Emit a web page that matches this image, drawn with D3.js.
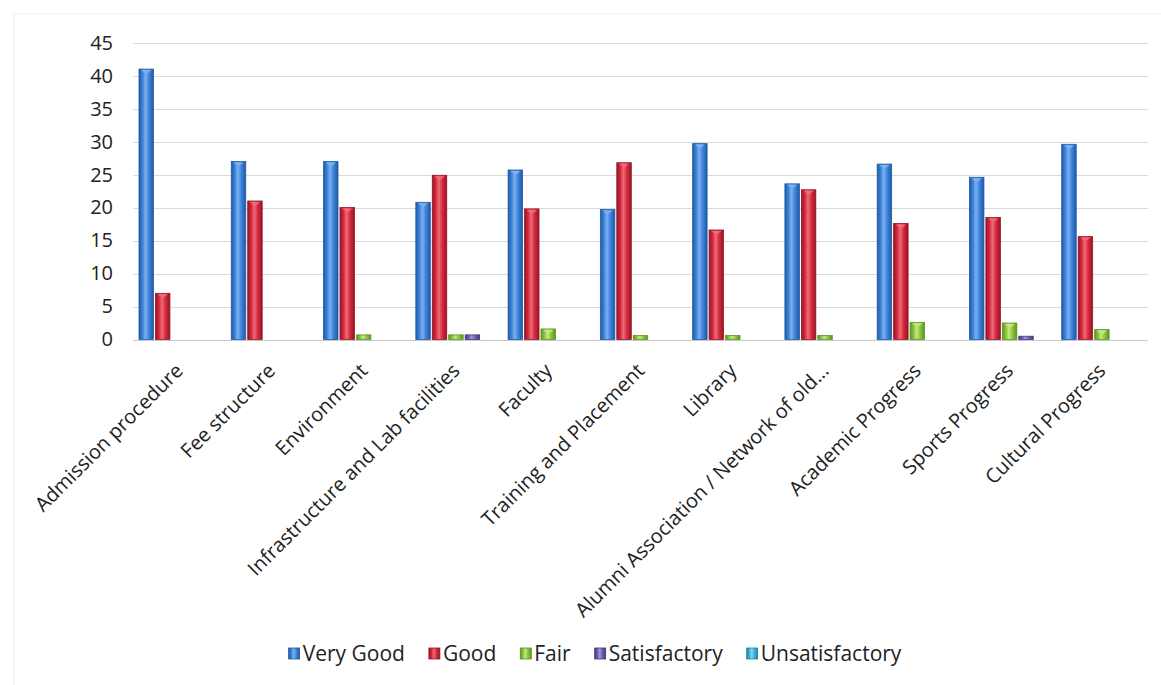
<!DOCTYPE html>
<html>
<head>
<meta charset="utf-8">
<script src="https://cdn.jsdelivr.net/npm/d3@7"></script>
<style>
  html, body { margin: 0; padding: 0; background: #ffffff; }
  svg { display: block; }
  text { font-family: "Open Sans", "DejaVu Sans", sans-serif; fill: #222; }
</style>
</head>
<body>
<svg id="chart" width="1161" height="685"></svg>
<script>
// ---- data ----
const categories = [
  "Admission procedure", "Fee structure", "Environment",
  "Infrastructure and Lab facilities", "Faculty", "Training and Placement",
  "Library", "Alumni Association / Network of old...", "Academic Progress",
  "Sports Progress", "Cultural Progress"
];
const seriesNames = ["Very Good", "Good", "Fair", "Satisfactory", "Unsatisfactory"];
const veryGood       = [41, 27, 27, 20.8, 25.7, 19.7, 29.7, 23.6, 26.6, 24.6, 29.6];
const good           = [7, 21, 20, 24.9, 19.8, 26.8, 16.6, 22.7, 17.6, 18.5, 15.6];
const fair           = [0, 0, 0.7, 0.7, 1.6, 0.6, 0.6, 0.6, 2.6, 2.5, 1.5];
const satisfactory   = [0, 0, 0, 0.7, 0, 0, 0, 0, 0, 0.5, 0];
const unsatisfactory = [0, 0, 0, 0, 0, 0, 0, 0, 0, 0, 0];
const yTicks = [0, 5, 10, 15, 20, 25, 30, 35, 40, 45];

const seriesValues = [veryGood, good, fair, satisfactory, unsatisfactory];
const palette = {
  "Very Good":      { main: "#3f82d8", light: "#79b0f0", dark: "#1d5aa8" },
  "Good":           { main: "#d32a3e", light: "#ef6a78", dark: "#971424" },
  "Fair":           { main: "#8cc43c", light: "#c2e886", dark: "#5a9420" },
  "Satisfactory":   { main: "#6d5fae", light: "#a296d6", dark: "#43367e" },
  "Unsatisfactory": { main: "#3fb2da", light: "#86d6f0", dark: "#1f7fa6" }
};

const svg = d3.select("#chart");
const W = 1161, H = 685;
const plot = { left: 133, right: 1148, top: 42.7, bottom: 339.5 };

svg.append("rect").attr("width", W).attr("height", H).attr("fill", "#fff");

// faint frame of the scanned chart area
svg.append("line").attr("x1", 14).attr("x2", W).attr("y1", 14).attr("y2", 14)
  .attr("stroke", "#ececec").attr("stroke-width", 1);
svg.append("line").attr("x1", 14).attr("x2", 14).attr("y1", 14).attr("y2", H)
  .attr("stroke", "#ececec").attr("stroke-width", 1);

// gradients
const defs = svg.append("defs");
seriesNames.forEach((s, i) => {
  const c = palette[s];
  const g = defs.append("linearGradient").attr("id", "grad" + i)
    .attr("x1", "0%").attr("x2", "100%").attr("y1", "0%").attr("y2", "0%");
  g.append("stop").attr("offset", "0%").attr("stop-color", c.dark);
  g.append("stop").attr("offset", "25%").attr("stop-color", c.main);
  g.append("stop").attr("offset", "45%").attr("stop-color", c.light);
  g.append("stop").attr("offset", "70%").attr("stop-color", c.main);
  g.append("stop").attr("offset", "100%").attr("stop-color", c.dark);
});

// scales
const y = d3.scaleLinear().domain([0, 45]).range([plot.bottom, plot.top]);
const x0 = d3.scaleBand().domain(categories).range([plot.left, plot.right])
  .paddingInner(0.13).paddingOuter(0.065);
const x1 = d3.scaleBand().domain(seriesNames).range([0, x0.bandwidth()])
  .paddingInner(0.12);

// gridlines
svg.append("g").selectAll("line").data(yTicks.filter(t => t > 0)).join("line")
  .attr("x1", plot.left).attr("x2", plot.right)
  .attr("y1", d => Math.round(y(d)) + 0.5).attr("y2", d => Math.round(y(d)) + 0.5)
  .attr("stroke", "#dadada").attr("stroke-width", 1);

// y axis (labels only)
const yAxis = d3.axisLeft(y).tickValues(yTicks).tickSize(0).tickPadding(0);
const gy = svg.append("g").attr("transform", `translate(113,0)`).call(yAxis);
gy.select(".domain").remove();
gy.selectAll("text").style("font-size", "20px").attr("fill", "#222")
  .style("font-family", '"Open Sans", sans-serif');

// bars
const barData = [];
categories.forEach((c, ci) => {
  seriesNames.forEach((s, si) => {
    barData.push({ cat: c, series: s, si: si, value: seriesValues[si][ci] });
  });
});
const bars = barData.filter(d => d.value > 0);
const gBars = svg.append("g");
gBars.selectAll("rect").data(bars).join("rect")
  .attr("x", d => x0(d.cat) + x1(d.series))
  .attr("y", d => y(d.value))
  .attr("width", x1.bandwidth())
  .attr("height", d => y(0) - y(d.value))
  .attr("fill", d => `url(#grad${d.si})`)
  .attr("stroke", d => palette[d.series].dark)
  .attr("stroke-width", 0.8);
// small light cap on the top of each bar
gBars.selectAll("path.cap").data(bars.filter(d => y(0) - y(d.value) > 8)).join("path")
  .attr("class", "cap")
  .attr("d", d => {
    const bx = x0(d.cat) + x1(d.series), bw = x1.bandwidth(), by = y(d.value);
    return `M${bx + 2},${by + 1}L${bx + bw - 2},${by + 1}L${bx + bw / 2},${by + 5}Z`;
  })
  .attr("fill", d => palette[d.series].light);

// x axis baseline
svg.append("line").attr("x1", plot.left).attr("x2", plot.right)
  .attr("y1", Math.round(y(0)) + 0.5).attr("y2", Math.round(y(0)) + 0.5)
  .attr("stroke", "#c8c8c8").attr("stroke-width", 1);

// category labels
const xAxis = d3.axisBottom(x0).tickSize(0).tickPadding(0);
const gx = svg.append("g").attr("transform", `translate(0,0)`).call(xAxis);
gx.select(".domain").remove();
gx.selectAll(".tick").attr("transform", d => `translate(${x0(d) + x0.bandwidth() / 2 + 5},372)`);
gx.selectAll(".tick text")
  .attr("x", 0).attr("y", 0).attr("dy", "0")
  .attr("text-anchor", "end")
  .attr("transform", "rotate(-45)")
  .style("font-size", "20px")
  .style("font-family", '"Open Sans", sans-serif')
  .attr("fill", "#222");

// legend
const legend = svg.append("g");
const items = [];
seriesNames.forEach((s, i) => {
  const g = legend.append("g");
  g.append("rect").attr("x", 0).attr("y", -6).attr("width", 11).attr("height", 11)
    .attr("fill", `url(#grad${i})`).attr("stroke", palette[s].dark).attr("stroke-width", 0.8);
  const t = g.append("text").attr("x", 14).attr("y", 0).attr("dy", "0.35em")
    .style("font-size", "21px").style("font-family", '"Open Sans", sans-serif')
    .attr("fill", "#222").text(s);
  const w = 14 + t.node().getComputedTextLength();
  items.push({ g, w });
});
const gap = 24;
const total = d3.sum(items, d => d.w) + gap * (items.length - 1);
let xPos = 595 - total / 2;
items.forEach(it => {
  it.g.attr("transform", `translate(${xPos},654)`);
  xPos += it.w + gap;
});
</script>
</body>
</html>
